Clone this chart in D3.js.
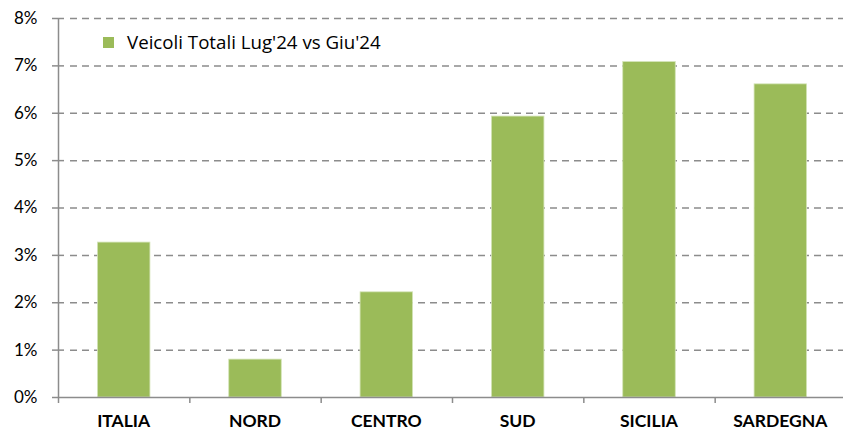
<!DOCTYPE html>
<html>
<head>
<meta charset="utf-8">
<script src="https://cdn.jsdelivr.net/npm/d3@7"></script>
<style>
  body { margin: 0; background: #fff; }
  svg { display: block; }
  text { font-family: Lato, "Open Sans", sans-serif; fill: #000; }
</style>
</head>
<body>
<div class="visContainer"></div>
<script>
const categories = ['ITALIA', 'NORD', 'CENTRO', 'SUD', 'SICILIA', 'SARDEGNA'];
const values = [3.27, 0.8, 2.22, 5.93, 7.08, 6.61];
const yTicks = [0, 1, 2, 3, 4, 5, 6, 7, 8];
const seriesName = "Veicoli Totali Lug'24 vs Giu'24";

const w = 843;
const h = 432;
const plotLeft = 58, plotRight = 846, plotTop = 18, plotBottom = 397;

const svg = d3.select('.visContainer')
  .append('svg')
  .attr('width', w)
  .attr('height', h);

const xScale = d3.scaleBand()
  .domain(categories)
  .range([plotLeft, plotRight])
  .paddingInner(0.6)
  .paddingOuter(0.3);

const yScale = d3.scaleLinear().domain([0, 8]).range([plotBottom, plotTop]);

// dashed gridlines
svg.append('g')
  .selectAll('line')
  .data(yTicks.filter(d => d > 0))
  .enter()
  .append('line')
  .attr('x1', plotLeft + 7)
  .attr('x2', plotRight)
  .attr('y1', d => yScale(d) + 0.5)
  .attr('y2', d => yScale(d) + 0.5)
  .attr('stroke', '#8c8c8c')
  .attr('stroke-width', 1.5)
  .attr('stroke-dasharray', '7,5')
  .attr('stroke-dashoffset', -5);

// bars
svg.append('g')
  .selectAll('rect')
  .data(values)
  .enter()
  .append('rect')
  .attr('x', (d, i) => xScale(categories[i]))
  .attr('y', d => yScale(d))
  .attr('width', xScale.bandwidth())
  .attr('height', d => plotBottom - yScale(d))
  .attr('fill', '#9bbb59')
  .attr('stroke', '#d4e4b8')
  .attr('stroke-width', 0.8);

// y axis (labels only, ticks drawn as crosses below)
const yAxis = d3.axisLeft(yScale)
  .tickValues(yTicks)
  .tickSize(0)
  .tickPadding(21)
  .tickFormat(d => d + '%');

const yAxisGroup = svg.append('g')
  .attr('id', 'y-axis')
  .attr('transform', 'translate(' + (plotLeft + 0.5) + ',0)')
  .call(yAxis);
yAxisGroup.select('.domain').attr('stroke', '#8c8c8c').attr('stroke-width', 1.5)
  .attr('d', 'M0,' + plotTop + 'V' + plotBottom);
yAxisGroup.selectAll('.tick text')
  .style('font-family', 'Lato, sans-serif')
  .style('font-size', '17px')
  .attr('fill', '#000');

svg.append('g')
  .selectAll('line')
  .data(yTicks)
  .enter()
  .append('line')
  .attr('x1', plotLeft - 6)
  .attr('x2', d => d === 0 ? plotLeft : plotLeft + 6)
  .attr('y1', d => yScale(d) + 0.5)
  .attr('y2', d => yScale(d) + 0.5)
  .attr('stroke', '#8c8c8c')
  .attr('stroke-width', 1.5);

// x axis line and ticks
svg.append('line')
  .attr('x1', plotLeft)
  .attr('x2', plotRight)
  .attr('y1', plotBottom + 0.5)
  .attr('y2', plotBottom + 0.5)
  .attr('stroke', '#8c8c8c')
  .attr('stroke-width', 1.5);

const boundaries = d3.range(categories.length + 1)
  .map(i => plotLeft + i * (plotRight - plotLeft) / categories.length);
svg.append('g')
  .selectAll('line')
  .data(boundaries)
  .enter()
  .append('line')
  .attr('x1', d => d + 0.5)
  .attr('x2', d => d + 0.5)
  .attr('y1', plotBottom)
  .attr('y2', plotBottom + 6)
  .attr('stroke', '#8c8c8c')
  .attr('stroke-width', 1.5);

svg.append('g')
  .selectAll('text')
  .data(categories)
  .enter()
  .append('text')
  .attr('x', d => xScale(d) + xScale.bandwidth() / 2)
  .attr('y', 427)
  .attr('text-anchor', 'middle')
  .style('font-size', '17.5px')
  .style('font-weight', 'bold')
  .text(d => d);

// legend
svg.append('rect')
  .attr('x', 103)
  .attr('y', 37)
  .attr('width', 11)
  .attr('height', 11)
  .attr('fill', '#9bbb59');
svg.append('text')
  .attr('x', 127)
  .attr('y', 49)
  .style('font-family', '"Open Sans", sans-serif')
  .style('font-size', '18.7px')
  .text(seriesName);
</script>
</body>
</html>
